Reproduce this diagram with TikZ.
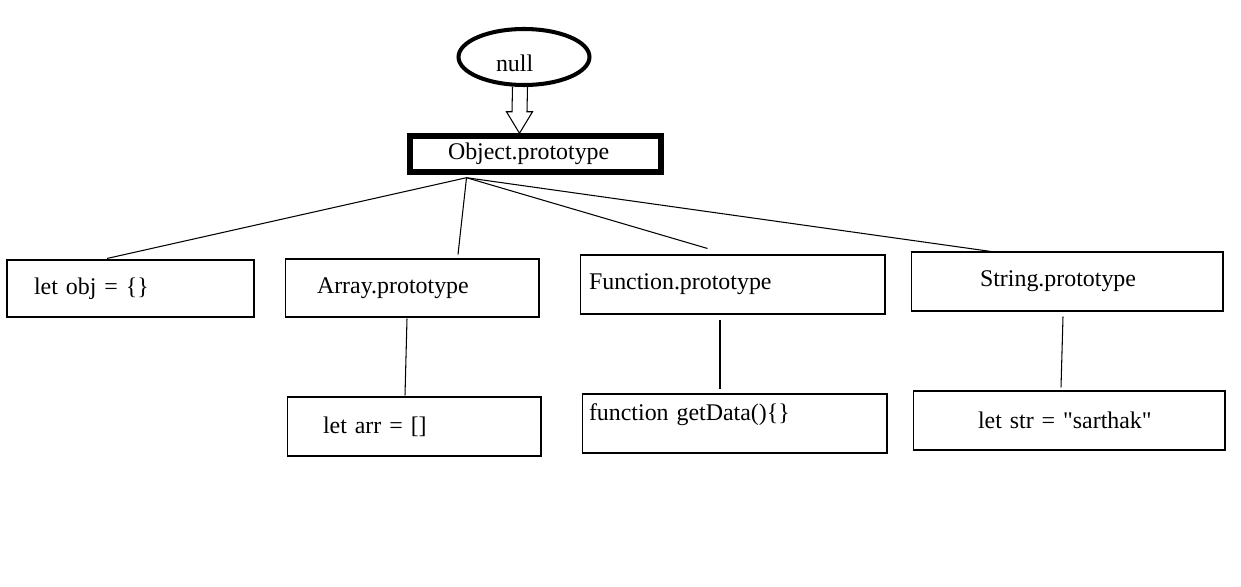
\documentclass[tikz,border=0pt]{standalone}
\usepackage{fontspec}
\setmainfont{Liberation Serif}[Ligatures=TeXOff]
\usetikzlibrary{shapes.geometric,calc}

\begin{document}
\begin{tikzpicture}[x=0.02cm,y=-0.02cm]
    % Define node and line styles
    \tikzset{protobox/.style={draw,line width=0.6pt,align=left,inner sep=0pt,font=\fontsize{13.6}{16}\selectfont}}
    \tikzset{link/.style={line width=0.6pt}}
    \tikzset{hollowarrow/.style={line width=0.6pt,line join=miter}}

    \useasboundingbox (0,0) rectangle (1241,587); % keep the page size

    % Root of the chain
    \node[protobox,ellipse,line width=2.3pt,minimum width=2.62cm,minimum height=1.12cm,text width=1.12cm,text height=0.6cm,text depth=0cm] (nul) at (524,57) {null};
    \node[protobox,line width=3.1pt,minimum width=5.02cm,minimum height=0.72cm,text width=3.5cm] (objproto) at (535.5,154) {Object.prototype};

    % Fat arrow from null down to Object.prototype
    \coordinate (tip) at ($(objproto.north)+(-16,0)$);
    \draw[hollowarrow] ($(nul.south)+(-11.5,0)$) -- ($(tip)+(-7.5,-21.5)$) -- ($(tip)+(-13,-21.5)$) -- (tip)
        -- ($(tip)+(13,-21.5)$) -- ($(tip)+(7.5,-21.5)$) -- ($(nul.south)+(3.5,0)$);

    % Second row
    \node[protobox,minimum width=4.94cm,minimum height=1.14cm,text width=3.86cm] (letobj) at (130.5,288.5) {let obj = \{\}};
    \node[protobox,minimum width=5.08cm,minimum height=1.16cm,text width=3.80cm] (arrayproto) at (412,288) {Array.prototype};
    \node[protobox,minimum width=6.10cm,minimum height=1.18cm,text width=5.74cm] (funcproto) at (732.5,284.5) {Function.prototype};
    \node[protobox,minimum width=6.24cm,minimum height=1.18cm,text width=3.48cm] (strproto) at (1067,281.5) {String.prototype};

    % Third row
    \node[protobox,minimum width=5.08cm,minimum height=1.18cm,text width=3.64cm] (letarr) at (414,426.5) {let arr = []};
    \node[protobox,minimum width=6.10cm,minimum height=1.18cm,text width=5.82cm,text height=0.34cm,text depth=0.47cm] (getdata) at (734.5,423.5) {function getData()\{\}};
    \node[protobox,minimum width=6.24cm,minimum height=1.18cm,text width=3.64cm] (letstr) at (1069,420.5) {let str = "sarthak"};

    % Lines out of Object.prototype
    \coordinate (hub) at ($(objproto.south)+(-69,3)$);
    \draw[link] (hub) -- ($(letobj.north)+(-23.5,-1)$);
    \draw[link] (hub) -- ($(arrayproto.north)+(46,-4)$);
    \draw[link] (hub) -- ($(funcproto.north)+(-25,-6)$);
    \draw[link] (hub) -- ($(strproto.north)+(-76,0)$);

    % Lines down to the instances
    \draw[link] ($(arrayproto.south)+(-5,1)$) -- ($(letarr.north)+(-9,-1)$);
    \draw[link] ($(funcproto.south)+(-12.5,5)$) -- ($(getdata.north)+(-14.5,-4)$);
    \draw[link] ($(strproto.south)+(-4,5)$) -- ($(letstr.north)+(-8,-3)$);
\end{tikzpicture}
\end{document}
